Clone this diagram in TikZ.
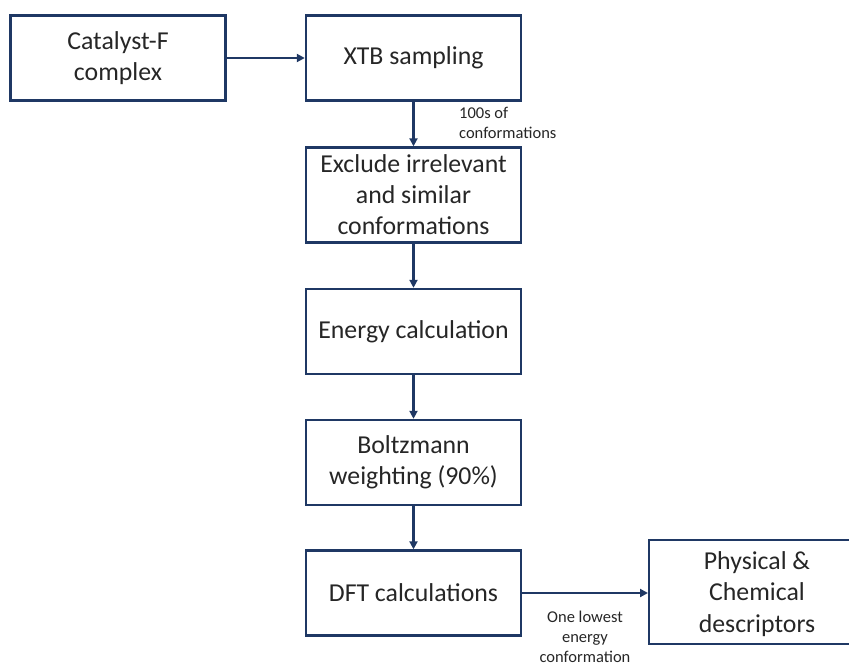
\documentclass[tikz,border=0pt]{standalone}
\usepackage{fontspec}
\setmainfont{Carlito}
\usetikzlibrary{arrows.meta}
\definecolor{navy}{HTML}{1F3864}
\begin{document}
\begin{tikzpicture}[x=1pt,y=-1pt,
  stepbox/.style={draw=navy,line width=2.4pt,minimum width=215pt,minimum height=85pt,
    inner sep=0pt,align=center,font=\fontsize{25.8}{31}\selectfont,text=black!85},
  flow/.style={draw=navy,line width=2.4pt,-{Triangle[length=8pt,width=8pt]}},
  note/.style={font=\fontsize{16.5}{20}\selectfont,text=black!85,inner sep=0pt}]
\useasboundingbox (0,0) rectangle (849,664);
\node[stepbox] (cat) at (118,58) {Catalyst-F\\complex};
\node[stepbox] (xtb) at (413.5,58) {XTB sampling};
\node[stepbox,minimum height=95pt] (excl) at (413.5,195) {Exclude irrelevant\\and similar\\conformations};
\node[stepbox] (ene) at (413.5,331.5) {Energy calculation};
\node[stepbox] (boltz) at (413.5,462.5) {Boltzmann\\weighting (90\%)};
\node[stepbox] (dft) at (413.5,593) {DFT calculations};
\node[stepbox,minimum width=215pt,minimum height=104pt,anchor=west] (phys) at (648,592) {};
\node[font=\fontsize{25.8}{31.5}\selectfont,text=black!85,align=center] (physt) at (757,594) {Physical \&\\Chemical\\descriptors};
\draw[flow] (cat) -- (xtb);
\draw[flow] (xtb) -- (excl);
\draw[flow] (excl) -- (ene);
\draw[flow] (ene) -- (boltz);
\draw[flow] (boltz) -- (dft);
\draw[flow] (dft.east) -- (dft.east -| phys.west);
\node[note,align=left,anchor=west] (n1) at (459,123) {100s of\\conformations};
\node[note,align=center] (n2) at (585,637) {One lowest\\energy\\conformation};
\end{tikzpicture}
\end{document}
